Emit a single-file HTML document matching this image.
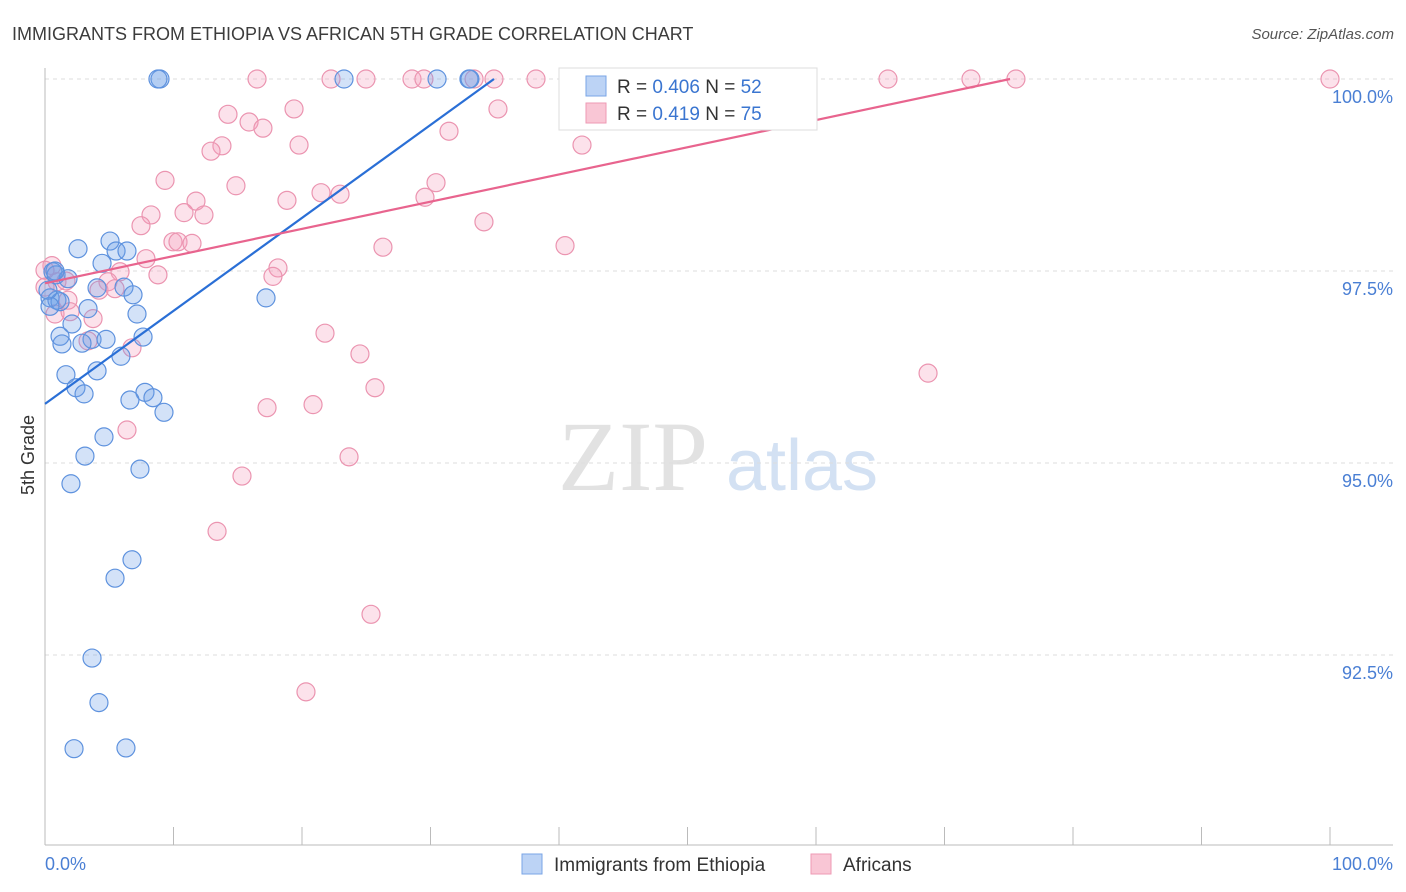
<!DOCTYPE html>
<html><head><meta charset="utf-8"><style>
body{margin:0;background:#fff;font-family:"Liberation Sans",sans-serif}
svg{display:block}
</style></head><body>
<svg id="c" width="1406" height="892">
<text x="12" y="40" font-size="18" fill="#3c3c3c">IMMIGRANTS FROM ETHIOPIA VS AFRICAN 5TH GRADE CORRELATION CHART</text>
<text x="1394" y="39" font-size="15" fill="#555" text-anchor="end" font-style="italic">Source: ZipAtlas.com</text>
<text x="34" y="455" font-size="18" fill="#333" transform="rotate(-90 34 455)" text-anchor="middle">5th Grade</text>
<g>
<text x="633" y="490" font-size="100" font-family="Liberation Serif,serif" fill="#e2e2e2" text-anchor="middle">ZIP</text>
<text x="802" y="490" font-size="72" fill="#d3e1f3" text-anchor="middle">atlas</text>
</g>
<g id="grid"></g><g id="axes"></g><g id="pts"></g><g id="lines"></g>
<g>
<rect x="559" y="68" width="258" height="62" fill="#fff" stroke="#ddd"/>
<rect x="586" y="76" width="20" height="20" fill="#bcd3f5" stroke="#7aa5e6"/>
<text x="617" y="93" font-size="19" fill="#333">R = <tspan fill="#3a75d0">0.406</tspan>   N = <tspan fill="#3a75d0">52</tspan></text>
<rect x="586" y="103" width="20" height="20" fill="#f9c6d5" stroke="#ee9ab4"/>
<text x="617" y="120" font-size="19" fill="#333">R =  <tspan fill="#3a75d0">0.419</tspan>   N = <tspan fill="#3a75d0">75</tspan></text>
</g>
<g>
<rect x="522" y="854" width="20" height="20" fill="#bcd3f5" stroke="#7aa5e6"/>
<text x="554" y="871" font-size="19" fill="#333">Immigrants from Ethiopia</text>
<rect x="811" y="854" width="20" height="20" fill="#f9c6d5" stroke="#ee9ab4"/>
<text x="843" y="871" font-size="19" fill="#333">Africans</text>
</g>
</svg>
<script>
const yTicks=[100,97.5,95,92.5];
const yTickLabels=["100.0%","97.5%","95.0%","92.5%"];
const xTickLabels=["0.0%","100.0%"];
const blueX=[8.95,8.79,23.27,30.51,32.99,33.07,2.57,5.06,5.53,6.38,4.44,0.62,0.86,1.79,4.05,6.15,6.85,0.39,0.93,1.17,3.35,7.16,17.20,2.10,1.17,1.32,3.66,4.75,2.88,7.63,5.91,1.63,4.05,2.41,3.04,7.78,6.61,8.40,9.26,4.59,3.11,7.39,2.02,6.77,5.45,3.66,4.20,2.26,6.30,0.39,0.78,0.23];
const blueY=[100,100,100,100,100,100,97.79,97.89,97.76,97.76,97.60,97.49,97.45,97.40,97.28,97.29,97.19,97.15,97.12,97.10,97.01,96.94,97.15,96.81,96.65,96.55,96.61,96.61,96.56,96.64,96.39,96.15,96.20,95.98,95.90,95.92,95.82,95.85,95.66,95.34,95.09,94.92,94.73,93.74,93.50,92.46,91.88,91.28,91.29,97.04,97.50,97.25];
const pinkX=[16.50,22.26,24.98,28.56,29.49,33.39,34.94,38.21,55.56,59.07,65.60,72.06,75.56,100,19.38,35.25,14.24,15.88,16.96,31.44,13.77,12.92,19.77,41.79,9.34,14.86,30.43,21.48,22.96,18.83,29.57,11.75,8.25,10.82,12.37,7.47,34.16,9.96,10.35,11.44,26.30,40.47,7.86,0.54,18.13,5.84,8.79,17.74,4.90,0.93,1.63,0,4.20,5.45,1.79,0.78,3.74,21.79,3.35,6.77,24.51,68.72,25.68,17.28,20.86,6.38,23.66,15.33,13.39,25.37,20.31,0,1.95];
const pinkY=[100,100,100,100,100,100,100,100,100,100,100,100,100,100,99.61,99.61,99.54,99.44,99.36,99.32,99.13,99.06,99.14,99.14,98.68,98.61,98.65,98.52,98.50,98.42,98.46,98.41,98.23,98.26,98.23,98.09,98.14,97.88,97.88,97.86,97.81,97.83,97.66,97.57,97.54,97.49,97.45,97.43,97.36,97.36,97.37,97.29,97.25,97.27,97.12,96.94,96.88,96.69,96.59,96.50,96.42,96.17,95.98,95.72,95.76,95.43,95.08,94.83,94.11,93.03,92.02,97.51,96.97];
const blueTrend=[[0,95.77],[34.94,100]];
const pinkTrend=[[0,97.34],[75.1,100]];
const NS="http://www.w3.org/2000/svg";
const X=v=>45+v*12.85, Y=v=>79+(100-v)*76.8;
function mk(tag,attrs,parent){const e=document.createElementNS(NS,tag);for(const k in attrs)e.setAttribute(k,attrs[k]);parent.appendChild(e);return e;}
const grid=document.getElementById('grid'),axes=document.getElementById('axes'),pts=document.getElementById('pts'),lines=document.getElementById('lines');
yTicks.forEach((t,i)=>{
 const l=mk('line',{x1:45,x2:1393,y1:Y(t),y2:Y(t),stroke:'#ddd','stroke-dasharray':'4,4'},grid);
 
 
 const tx=mk('text',{x:1393,y:Y(t)+24,'font-size':18,fill:'#4a7fd4','text-anchor':'end'},axes);
 tx.textContent=yTickLabels[i];
 
 
});
const ya=mk('line',{x1:45,x2:45,y1:68,y2:845,stroke:'#bbb'},axes);


const xa=mk('line',{x1:45,x2:1393,y1:845,y2:845,stroke:'#bbb'},axes);


for(let i=0;i<=10;i++){
 const t=mk('line',{x1:X(i*10),x2:X(i*10),y1:827,y2:845,stroke:'#bbb'},axes);
 
 
}
[[0,'start',45],[100,'end',1393]].forEach((d,i)=>{
 const t=mk('text',{x:d[2],y:870,'font-size':18,fill:'#4a7fd4','text-anchor':d[1]},axes);
 t.textContent=xTickLabels[i];
 
 
});
function dots(xs,ys,fill,stroke,name){
 xs.forEach((x,i)=>{
  const c=mk('circle',{cx:X(x),cy:Y(ys[i]),r:9,fill:fill,stroke:stroke,'stroke-width':1.2},pts);
  
  
 });
}
dots(pinkX,pinkY,'rgba(244,160,188,0.3)','#eb94b0','africans-point');
dots(blueX,blueY,'rgba(110,160,232,0.3)','#5e92de','ethiopia-point');
const bl=mk('line',{x1:X(blueTrend[0][0]),y1:Y(blueTrend[0][1]),x2:X(blueTrend[1][0]),y2:Y(blueTrend[1][1]),stroke:'#2a6fd6','stroke-width':2.2},lines);


const pl=mk('line',{x1:X(pinkTrend[0][0]),y1:Y(pinkTrend[0][1]),x2:X(pinkTrend[1][0]),y2:Y(pinkTrend[1][1]),stroke:'#e8648e','stroke-width':2.2},lines);


</script>
</body></html>
